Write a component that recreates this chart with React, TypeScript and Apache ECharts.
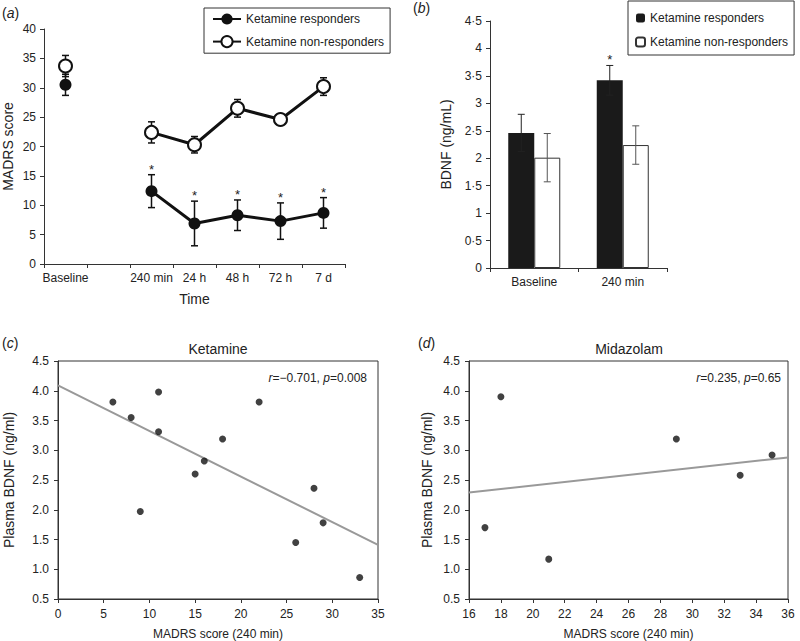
import React, { useEffect, useRef } from "react";
import * as echarts from "echarts";

const FONT = '"Liberation Sans", Arial, Helvetica, sans-serif';

// Panel (a): MADRS over time
const timeCats = ["Baseline", "", "240 min", "24 h", "48 h", "72 h", "7 d"];
const respMean = [30.5, null, 12.4, 6.9, 8.3, 7.3, 8.7];
const respErr = [1.8, null, 2.8, 3.8, 2.6, 3.1, 2.6];
const respStar = [0, 0, 1, 1, 1, 1, 1];
const nonMean = [33.7, null, 22.4, 20.3, 26.5, 24.6, 30.2];
const nonErr = [1.8, null, 1.8, 1.4, 1.5, 0.9, 1.5];

// Panel (b): BDNF bars
const bdnfCats = ["Baseline", "240 min"];
const bdnfResp = [2.46, 3.42];
const bdnfRespErr = [0.34, 0.27];
const bdnfRespStar = [0, 1];
const bdnfNon = [2.01, 2.24];
const bdnfNonErr = [0.44, 0.35];

// Panel (c): Ketamine scatter
const ketX = [6, 8, 11, 11, 22, 18, 16, 15, 9, 26, 28, 29, 33];
const ketY = [3.81, 3.55, 3.98, 3.31, 3.81, 3.19, 2.82, 2.6, 1.97, 1.45, 2.36, 1.78, 0.86];
const ketFitX = [0, 35];
const ketFitY = [4.09, 1.41];

// Panel (d): Midazolam scatter
const midX = [18, 29, 35, 33, 17, 21];
const midY = [3.9, 3.19, 2.92, 2.58, 1.7, 1.17];
const midFitX = [16, 36];
const midFitY = [2.29, 2.88];

const legendNames: Record<string, string> = {
  respA: "Ketamine responders",
  nonA: "Ketamine non-responders",
  respB: "Ketamine responders",
  nonB: "Ketamine non-responders",
};

const errData = (mean: (number | null)[], err: (number | null)[], star: number[]) =>
  mean
    .map((m, i) => (m == null ? null : [i, m, err[i] as number, star[i] || 0]))
    .filter((d) => d !== null);

const makeErr =
  (dx: number, color: string, lw: number, cap: number) => (params: any, api: any) => {
    const i = api.value(0);
    const m = api.value(1);
    const e = api.value(2);
    const s = api.value(3);
    const top = api.coord([i, m + e]);
    const bot = api.coord([i, m - e]);
    const x = top[0] + dx;
    const children: any[] = [
      { type: "line", shape: { x1: x, y1: top[1], x2: x, y2: bot[1] }, style: { stroke: color, lineWidth: lw } },
      { type: "line", shape: { x1: x - cap, y1: top[1], x2: x + cap, y2: top[1] }, style: { stroke: color, lineWidth: lw } },
      { type: "line", shape: { x1: x - cap, y1: bot[1], x2: x + cap, y2: bot[1] }, style: { stroke: color, lineWidth: lw } },
    ];
    if (s) {
      children.push({
        type: "text",
        style: {
          text: "*",
          x,
          y: top[1] + 1,
          align: "center",
          verticalAlign: "bottom",
          fontSize: 13,
          fontFamily: FONT,
          fill: "#222",
        },
      });
    }
    return { type: "group", children };
  };

const axisCommon = {
  axisLine: { show: true, lineStyle: { color: "#333", width: 1 } },
  axisTick: { show: true, length: 4, lineStyle: { color: "#333" } },
  axisLabel: { color: "#222", fontSize: 12, fontFamily: FONT },
  splitLine: { show: false },
  nameTextStyle: { color: "#222", fontSize: 14, fontFamily: FONT },
};

const BAR_W = 26;

export default function App() {
  const ref = useRef<HTMLDivElement>(null);
  useEffect(() => {
    if (!ref.current) return;
    const chart = echarts.init(ref.current, undefined, { renderer: "svg" });
    const option: any = {
      animation: false,
      textStyle: { fontFamily: FONT, color: "#222" },
      grid: [
        { left: 44, top: 29, width: 301, height: 235 },
        { left: 490, top: 21, width: 177, height: 247 },
        { left: 58, top: 361, width: 320, height: 238, show: true, borderColor: "#333", borderWidth: 1 },
        { left: 469, top: 361, width: 319, height: 238, show: true, borderColor: "#333", borderWidth: 1 },
      ],
      legend: [
        {
          data: ["respA", "nonA"],
          formatter: (n: string) => legendNames[n],
          orient: "vertical",
          left: 204,
          top: 8,
          itemWidth: 28,
          itemHeight: 14,
          itemGap: 10,
          padding: [5, 6, 5, 8],
          borderColor: "#333",
          borderWidth: 1,
          textStyle: { fontSize: 12, color: "#222", fontFamily: FONT },
          selectedMode: false,
        },
        {
          data: ["respB", "nonB"],
          formatter: (n: string) => legendNames[n],
          orient: "vertical",
          left: 628,
          top: 1,
          itemWidth: 9,
          itemHeight: 9,
          itemGap: 12,
          padding: [11, 6, 7, 7],
          borderColor: "#333",
          borderWidth: 1,
          textStyle: { fontSize: 12, color: "#222", fontFamily: FONT },
          selectedMode: false,
        },
      ],
      xAxis: [
        {
          ...axisCommon,
          gridIndex: 0,
          type: "category",
          data: timeCats,
          boundaryGap: true,
          axisLabel: { ...axisCommon.axisLabel, margin: 8, interval: 0 },
          axisTick: { ...axisCommon.axisTick, interval: 0 },
          name: "Time",
          nameLocation: "middle",
          nameGap: 28,
        },
        {
          ...axisCommon,
          gridIndex: 1,
          type: "category",
          data: bdnfCats,
          boundaryGap: true,
          axisLabel: { ...axisCommon.axisLabel, margin: 8 },
        },
        {
          ...axisCommon,
          gridIndex: 2,
          type: "value",
          min: 0,
          max: 35,
          interval: 5,
          axisLabel: { ...axisCommon.axisLabel, margin: 9 },
          name: "MADRS score (240 min)",
          nameLocation: "middle",
          nameGap: 29,
          nameTextStyle: { ...axisCommon.nameTextStyle, fontSize: 12 },
        },
        {
          ...axisCommon,
          gridIndex: 3,
          type: "value",
          min: 16,
          max: 36,
          interval: 2,
          axisLabel: { ...axisCommon.axisLabel, margin: 9 },
          name: "MADRS score (240 min)",
          nameLocation: "middle",
          nameGap: 29,
          nameTextStyle: { ...axisCommon.nameTextStyle, fontSize: 12 },
        },
      ],
      yAxis: [
        {
          ...axisCommon,
          gridIndex: 0,
          type: "value",
          min: 0,
          max: 40,
          interval: 5,
          axisLabel: { ...axisCommon.axisLabel, margin: 8 },
          name: "MADRS score",
          nameLocation: "middle",
          nameGap: 29,
        },
        {
          ...axisCommon,
          gridIndex: 1,
          type: "value",
          min: 0,
          max: 4.5,
          interval: 0.5,
          axisLabel: {
            ...axisCommon.axisLabel,
            margin: 8,
            formatter: (v: number) => String(v).replace(".", "·"),
          },
          name: "BDNF (ng/mL)",
          nameLocation: "middle",
          nameGap: 37,
        },
        {
          ...axisCommon,
          gridIndex: 2,
          type: "value",
          min: 0.5,
          max: 4.5,
          interval: 0.5,
          axisLabel: { ...axisCommon.axisLabel, margin: 9, formatter: (v: number) => v.toFixed(1) },
          name: "Plasma BDNF (ng/ml)",
          nameLocation: "middle",
          nameGap: 42,
        },
        {
          ...axisCommon,
          gridIndex: 3,
          type: "value",
          min: 0.5,
          max: 4.5,
          interval: 0.5,
          axisLabel: { ...axisCommon.axisLabel, margin: 9, formatter: (v: number) => v.toFixed(1) },
          name: "Plasma BDNF (ng/ml)",
          nameLocation: "middle",
          nameGap: 35,
        },
      ],
      series: [
        // Panel (a) error bars
        {
          type: "custom",
          xAxisIndex: 0,
          yAxisIndex: 0,
          z: 1,
          renderItem: makeErr(0, "#111", 1.5, 3.5),
          data: errData(respMean, respErr, respStar),
          encode: { x: 0, y: 1 },
        },
        {
          type: "custom",
          xAxisIndex: 0,
          yAxisIndex: 0,
          z: 1,
          renderItem: makeErr(0, "#111", 1.5, 3.5),
          data: errData(nonMean, nonErr, [0, 0, 0, 0, 0, 0, 0]),
          encode: { x: 0, y: 1 },
        },
        {
          name: "respA",
          type: "line",
          xAxisIndex: 0,
          yAxisIndex: 0,
          z: 3,
          data: respMean,
          connectNulls: false,
          symbol: "circle",
          symbolSize: 12,
          lineStyle: { color: "#111", width: 3 },
          itemStyle: { color: "#111" },
        },
        {
          name: "nonA",
          type: "line",
          xAxisIndex: 0,
          yAxisIndex: 0,
          z: 3,
          data: nonMean,
          connectNulls: false,
          symbol: "circle",
          symbolSize: 13,
          lineStyle: { color: "#111", width: 3 },
          itemStyle: { color: "#fff", borderColor: "#111", borderWidth: 2 },
        },
        // Panel (b) bars
        {
          name: "respB",
          type: "bar",
          xAxisIndex: 1,
          yAxisIndex: 1,
          data: bdnfResp,
          barWidth: BAR_W,
          barGap: "0%",
          itemStyle: { color: "#1a1a1a" },
        },
        {
          name: "nonB",
          type: "bar",
          xAxisIndex: 1,
          yAxisIndex: 1,
          data: bdnfNon,
          barWidth: BAR_W,
          barGap: "0%",
          itemStyle: { color: "#fff", borderColor: "#333", borderWidth: 1 },
        },
        {
          type: "custom",
          xAxisIndex: 1,
          yAxisIndex: 1,
          z: 5,
          renderItem: makeErr(-BAR_W / 2, "#222", 1, 3.5),
          data: errData(bdnfResp, bdnfRespErr, bdnfRespStar),
          encode: { x: 0, y: 1 },
        },
        {
          type: "custom",
          xAxisIndex: 1,
          yAxisIndex: 1,
          z: 5,
          renderItem: makeErr(BAR_W / 2, "#555", 1, 3.5),
          data: errData(bdnfNon, bdnfNonErr, [0, 0]),
          encode: { x: 0, y: 1 },
        },
        // Panel (c)
        {
          type: "line",
          xAxisIndex: 2,
          yAxisIndex: 2,
          data: ketFitX.map((x, i) => [x, ketFitY[i]]),
          symbol: "none",
          lineStyle: { color: "#999", width: 2 },
          z: 2,
        },
        {
          type: "scatter",
          xAxisIndex: 2,
          yAxisIndex: 2,
          data: ketX.map((x, i) => [x, ketY[i]]),
          symbolSize: 7,
          itemStyle: { color: "#111" },
          z: 3,
        },
        // Panel (d)
        {
          type: "line",
          xAxisIndex: 3,
          yAxisIndex: 3,
          data: midFitX.map((x, i) => [x, midFitY[i]]),
          symbol: "none",
          lineStyle: { color: "#999", width: 2 },
          z: 2,
        },
        {
          type: "scatter",
          xAxisIndex: 3,
          yAxisIndex: 3,
          data: midX.map((x, i) => [x, midY[i]]),
          symbolSize: 7,
          itemStyle: { color: "#111" },
          z: 3,
        },
      ],
      graphic: [
        ...[
          ["a", 2, 13],
          ["b", 413, 8],
          ["c", 2, 343],
          ["d", 418, 343],
        ].map(([l, x, y]) => ({
          type: "text",
          x,
          y,
          style: {
            text: "({i|" + l + "})",
            rich: { i: { fontStyle: "italic", fontSize: 14, fontFamily: FONT, fill: "#222" } },
            fontSize: 14,
            fontFamily: FONT,
            fill: "#222",
            verticalAlign: "middle",
          },
        })),
        {
          type: "text",
          x: 218,
          y: 349,
          style: { text: "Ketamine", fontSize: 14, fontFamily: FONT, fill: "#222", align: "center", verticalAlign: "middle" },
        },
        {
          type: "text",
          x: 629,
          y: 349,
          style: { text: "Midazolam", fontSize: 14, fontFamily: FONT, fill: "#222", align: "center", verticalAlign: "middle" },
        },
        {
          type: "text",
          x: 367,
          y: 378,
          style: {
            text: "{i|r}=−0.701, {i|p}=0.008",
            rich: { i: { fontStyle: "italic", fontSize: 12, fontFamily: FONT, fill: "#222" } },
            fontSize: 12,
            fontFamily: FONT,
            fill: "#222",
            align: "right",
            verticalAlign: "middle",
          },
        },
        {
          type: "text",
          x: 781,
          y: 378,
          style: {
            text: "{i|r}=0.235, {i|p}=0.65",
            rich: { i: { fontStyle: "italic", fontSize: 12, fontFamily: FONT, fill: "#222" } },
            fontSize: 12,
            fontFamily: FONT,
            fill: "#222",
            align: "right",
            verticalAlign: "middle",
          },
        },
      ],
    };
    chart.setOption(option);
    return () => chart.dispose();
  }, []);
  return (
    <div
      ref={ref}
      style={{ position: "fixed", left: 0, top: 0, width: 800, height: 641, background: "#fff" }}
    />
  );
}
